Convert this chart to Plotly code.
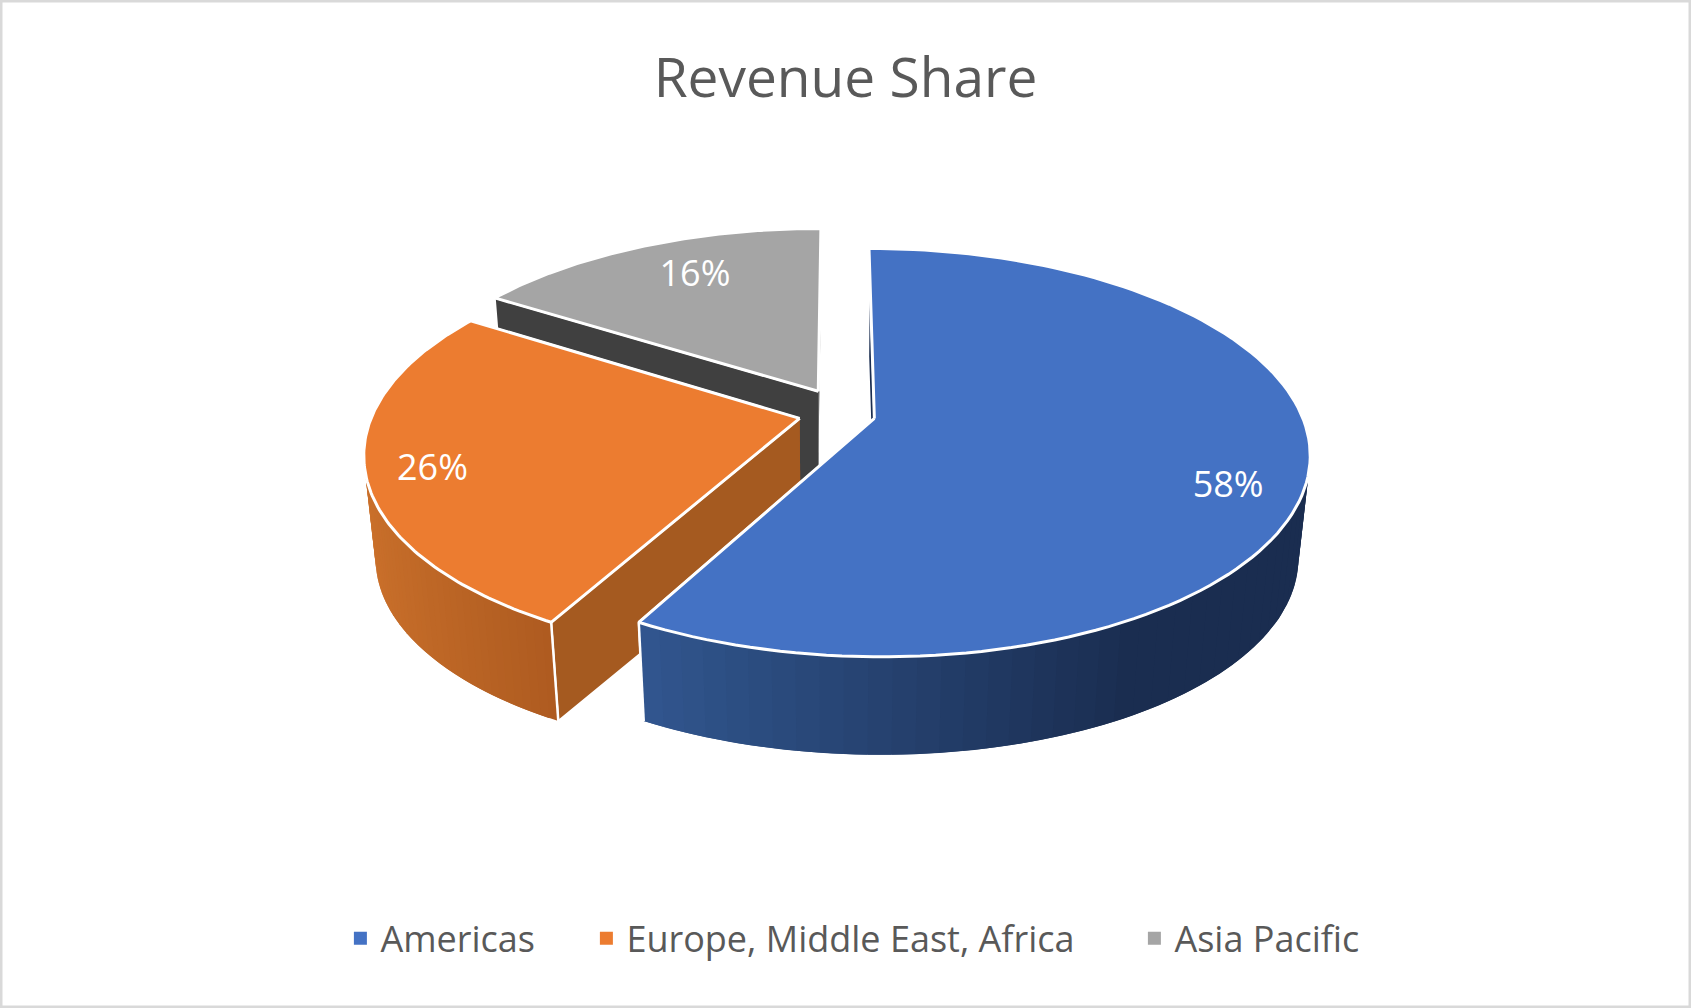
import numpy as np
import plotly.graph_objects as go

# data
regions = ['Americas', 'Europe, Middle East, Africa', 'Asia Pacific']
shares = [58, 26, 16]
pulls = [0.09, 0.09, 0.126]
pull_turn = [0, 0, 8]  # degrees, the grey slice does not move quite along its middle

# colours
top_colors = ['#4472c4', '#ec7c30', '#a5a5a5']
cut_colors = ['#1a2d50', '#a55a20', '#404040']
side_left = ['#31568f', '#ca702b', '#a5a5a5']
side_right = ['#1a2d50', '#ae5b20', '#a5a5a5']
side_fade = [(-0.48, 0.5), (-0.97, -0.48), (0, 1)]  # sin(angle) range of the shading

# fake 3d view, in page pixels
W, H = 1691, 1008
CX, CY = 837, 414
RX, RY = 427, 197
TILT = 0.167
DROP = 104
SHRINK = 0.975


def project(u, v, bottom=False):
    w = 1 + TILT * v
    x = CX + RX * u / w
    y = CY - RY * v / w
    if bottom:
        x = CX + SHRINK * (x - CX)
        y = CY + SHRINK * (y - CY) + DROP
    return x, y


def hex_mix(a, b, t):
    ca = [int(a[i:i + 2], 16) for i in (1, 3, 5)]
    cb = [int(b[i:i + 2], 16) for i in (1, 3, 5)]
    return 'rgb(%d,%d,%d)' % tuple(round(p + (q - p) * t) for p, q in zip(ca, cb))


def poly(fig, xs, ys, fill, line='white', width=3):
    fig.add_trace(go.Scatter(
        x=list(xs), y=list(ys), mode='lines', fill='toself', fillcolor=fill,
        line=dict(color=line, width=width), hoverinfo='skip', showlegend=False,
    ))


def offset(i):
    a = mids[i] + np.radians(pull_turn[i])
    return pulls[i] * np.sin(a), pulls[i] * np.cos(a)


# slice angles from the shares, clockwise from 12 o'clock
ends = np.cumsum(shares) / sum(shares) * 2 * np.pi
starts = np.r_[0, ends[:-1]]
mids = (starts + ends) / 2

fig = go.Figure()

# back to front so nearer slices cover the others
for i in [2, 1, 0]:
    a0, a1 = starts[i], ends[i]
    ou, ov = offset(i)

    # flat cut faces
    for a in (a1, a0):
        eu, ev = ou + np.sin(a), ov + np.cos(a)
        p = [project(ou, ov), project(eu, ev), project(eu, ev, True), project(ou, ov, True)]
        poly(fig, [q[0] for q in p], [q[1] for q in p], cut_colors[i], width=2)

    # rim, only the part that faces the viewer, split up for the shading
    vis0 = max(a0, np.arccos(-TILT))
    vis1 = min(a1, 2 * np.pi - np.arccos(-TILT))
    if vis1 > vis0:
        ang = np.linspace(vis0, vis1, 41)
        lo, hi = side_fade[i]
        # every strip reaches over the next one so no seams show
        for j in range(len(ang) - 1):
            b0, b1 = ang[j], ang[min(j + 2, len(ang) - 1)]
            t = np.clip((np.sin((ang[j] + ang[j + 1]) / 2) - lo) / (hi - lo), 0, 1)
            col = hex_mix(side_left[i], side_right[i], t)
            seg = np.linspace(b0, b1, 5)
            top = [project(ou + np.sin(s), ov + np.cos(s)) for s in seg]
            bot = [project(ou + np.sin(s), ov + np.cos(s), True) for s in seg[::-1]]
            p = top + bot
            poly(fig, [q[0] for q in p], [q[1] for q in p], col, line=col, width=0)
        # white corner where the rim meets a cut face
        for a in (vis0, vis1):
            if a in (a0, a1):
                e = (ou + np.sin(a), ov + np.cos(a))
                p = [project(*e), project(*e, True)]
                fig.add_trace(go.Scatter(
                    x=[q[0] for q in p], y=[q[1] for q in p], mode='lines',
                    line=dict(color='white', width=2.5), hoverinfo='skip', showlegend=False,
                ))

    # top face
    ang = np.linspace(a0, a1, 121)
    p = [project(ou, ov)] + [project(ou + np.sin(s), ov + np.cos(s)) for s in ang]
    poly(fig, [q[0] for q in p] + [p[0][0]], [q[1] for q in p] + [p[0][1]], top_colors[i])

# percent labels
label_r = [0.82, 0.85, 0.68]
label_dy = [28, 9, -11]
lx, ly = [], []
for i in range(3):
    ou, ov = offset(i)
    x, y = project(ou + label_r[i] * np.sin(mids[i]), ov + label_r[i] * np.cos(mids[i]))
    lx.append(x)
    ly.append(y + label_dy[i])
fig.add_trace(go.Scatter(
    x=lx, y=ly, mode='text', text=['%d%%' % s for s in shares],
    textposition='middle center',
    textfont=dict(family='Open Sans', size=36, color='white'),
    hoverinfo='skip', showlegend=False,
))

# legend entries
legend_widths = [201, 503, 200]
for name, col, lw in zip(regions, top_colors, legend_widths):
    fig.add_trace(go.Scatter(
        x=[None], y=[None], mode='markers', name=name, legendwidth=lw,
        marker=dict(symbol='square', size=13, color=col),
    ))

fig.update_layout(
    width=W,
    height=H,
    margin=dict(l=0, r=0, t=0, b=0),
    template='none',
    paper_bgcolor='white',
    plot_bgcolor='white',
    title=dict(
        text='Revenue Share', x=0.5, xanchor='center', y=0.923, yanchor='middle',
        font=dict(family='Open Sans', size=55, color='#595959'),
    ),
    legend=dict(
        orientation='h', x=0.2013, xanchor='left', y=0.0692, yanchor='middle',
        font=dict(family='Open Sans', size=36, color='#595959'),
        bgcolor='rgba(0,0,0,0)',
    ),
    xaxis=dict(visible=False, range=[0, W], fixedrange=True),
    yaxis=dict(visible=False, range=[H, 0], fixedrange=True),
    shapes=[dict(type='rect', xref='paper', yref='paper', x0=0, y0=0, x1=1, y1=1,
                 line=dict(color='#d9d9d9', width=5))],
)

# the page's default body margin would push the chart off the edges
fig.write_html("out.html", config=dict(displayModeBar=False),
               post_script="document.body.style.margin='0';")
